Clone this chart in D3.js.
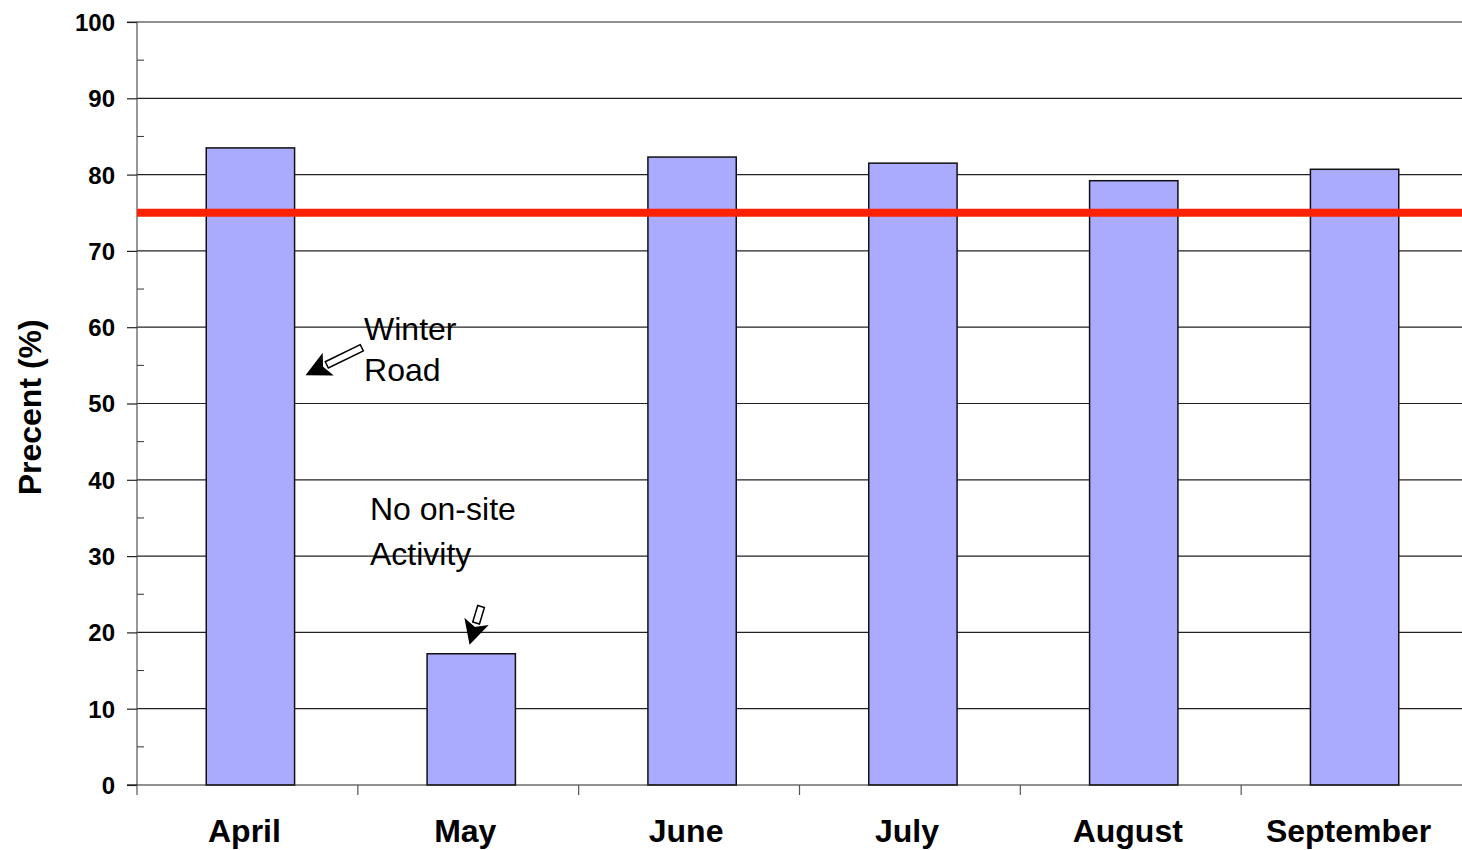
<!DOCTYPE html>
<html><head><meta charset="utf-8">
<script src="https://cdn.jsdelivr.net/npm/d3@7"></script>
<style>body{margin:0;background:#fff}svg{display:block;font-family:"Liberation Sans",Arial,sans-serif}</style>
</head><body><svg id="c" width="1462" height="850"></svg>
<script>
const months = ["April","May","June","July","August","September"];
const values = [83.5,17.2,82.3,81.5,79.2,80.7];
const target = 75;
const yTicks = [0,10,20,30,40,50,60,70,80,90,100];
const yMinor = [5,15,25,35,45,55,65,75,85,95];
// annotations: x in category units (0..6), y in percent
const labels = [
  {text:"Winter", x:1.028, y:58.3},
  {text:"Road", x:1.028, y:52.9},
  {text:"No on-site", x:1.055, y:34.7},
  {text:"Activity", x:1.055, y:28.8}
];
const arrows = [
  {x1:1.018, y1:57.3, x2:0.77, y2:53.8},
  {x1:1.558, y1:23.4, x2:1.508, y2:18.6}
];

const svg = d3.select("#c");
const L=137, R=1462, T=22, B=785;
const x = d3.scaleBand().domain(months).range([L,R]).paddingInner(0.6).paddingOuter(0.3);
const xc = d3.scaleLinear().domain([0,6]).range([L,R]);
const y = d3.scaleLinear().domain([0,100]).range([B,T]);

// gridlines
svg.append("g").selectAll("line").data(yTicks.filter(d=>d>0)).join("line")
  .attr("x1",L).attr("x2",R).attr("y1",d=>y(d)).attr("y2",d=>y(d))
  .attr("stroke","#222").attr("stroke-width",1.2);

// bars
svg.append("g").selectAll("rect").data(values).join("rect")
  .attr("x",(d,i)=>x(months[i])+3).attr("width",x.bandwidth())
  .attr("y",d=>y(d)).attr("height",d=>B-y(d))
  .attr("fill","#aaaaff").attr("stroke","#111").attr("stroke-width",1.5);

// y axis
const ya = svg.append("g").attr("transform",`translate(${L},0)`)
  .call(d3.axisLeft(y).tickValues(yTicks).tickSize(10).tickPadding(12));
ya.attr("font-size",null).attr("font-family",null);
ya.select(".domain").attr("stroke","#555").attr("stroke-width",1.2).attr("d",`M-10,${B}H0V${T}H-10`);
ya.selectAll(".tick line").attr("stroke","#222").attr("stroke-width",1.2);
ya.selectAll(".tick text").style("font-size","24px").style("font-weight","bold").attr("fill","#000")
  .attr("dy","0.35em");
ya.append("g").selectAll("line").data(yMinor).join("line")
  .attr("x1",0).attr("x2",7).attr("y1",d=>y(d)).attr("y2",d=>y(d)).attr("stroke","#333");

// x axis
const xa = svg.append("g").attr("transform",`translate(0,${B})`);
xa.append("line").attr("x1",L-10).attr("x2",R).attr("stroke","#222").attr("stroke-width",1.2);
xa.selectAll("line.t").data(d3.range(0,6)).join("line").attr("class","t")
  .attr("x1",d=>xc(d)).attr("x2",d=>xc(d)).attr("y1",0).attr("y2",10).attr("stroke","#555").attr("stroke-width",1.2);
xa.selectAll("text").data(months).join("text")
  .attr("x",(d,i)=>xc(i+0.5)-3).attr("y",57).attr("text-anchor","middle")
  .style("font-size","32px").style("font-weight","bold").text(d=>d);

// target line
svg.append("line").attr("x1",L).attr("x2",R).attr("y1",y(target)).attr("y2",y(target))
  .attr("stroke","#ff2200").attr("stroke-width",8);

// y label
svg.append("text").attr("transform",`translate(41,${y(49.5)}) rotate(-90)`)
  .attr("text-anchor","middle").style("font-size","32px").style("font-weight","bold").text("Precent (%)");

// annotation texts
svg.append("g").selectAll("text").data(labels).join("text")
  .attr("x",d=>xc(d.x)).attr("y",d=>y(d.y)).style("font-size","32px").attr("fill","#000").text(d=>d.text);

// hollow block arrows
function arrowPath(a){
  const x1=xc(a.x1), y1=y(a.y1), x2=xc(a.x2), y2=y(a.y2);
  const dx=x2-x1, dy=y2-y1, len=Math.hypot(dx,dy), ux=dx/len, uy=dy/len, px=-uy, py=ux;
  const hl=Math.min(22,len*0.55), hw=11, sw=3.5;
  const bx=x2-ux*hl, by=y2-uy*hl;
  return {shaft:[[x1+px*sw,y1+py*sw],[bx+px*sw,by+py*sw],[bx-px*sw,by-py*sw],[x1-px*sw,y1-py*sw]],
          head:[[bx+px*hw,by+py*hw],[x2,y2],[bx-px*hw,by-py*hw],[bx+ux*5,by+uy*5]]};
}
const ag = svg.append("g");
arrows.forEach(a=>{
  const p=arrowPath(a);
  ag.append("polygon").attr("points",p.shaft.map(d=>d.join(",")).join(" ")).attr("fill","#fff").attr("stroke","#000").attr("stroke-width",1.5);
  ag.append("polygon").attr("points",p.head.map(d=>d.join(",")).join(" ")).attr("fill","#000").attr("stroke","#000").attr("stroke-width",1.5);
});
</script></body></html>
